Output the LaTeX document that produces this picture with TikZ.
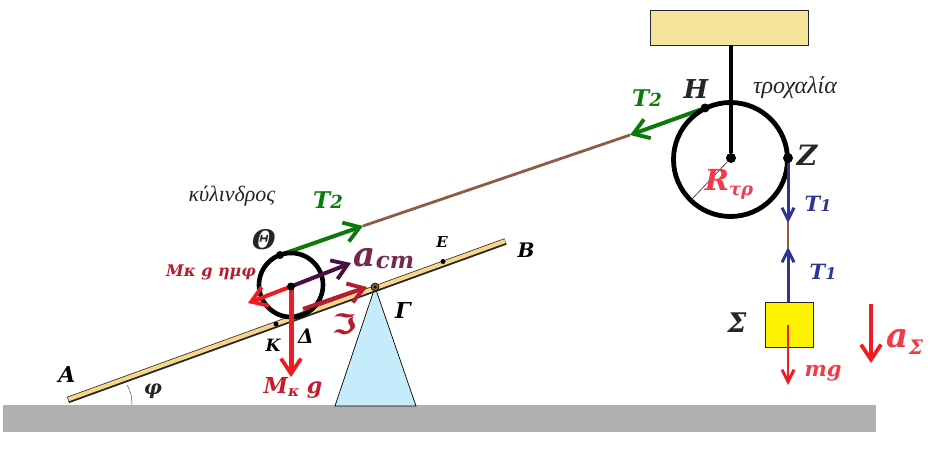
\documentclass[tikz,border=0pt]{standalone}
\usepackage{fontspec}
\setmainfont{Liberation Serif}
\newfontfamily\lbl{DejaVu Serif}[BoldItalicFont={DejaVu Serif Bold Italic}]
\newfontfamily\sym{DejaVu Sans}
\usetikzlibrary{arrows.meta}
\definecolor{grnd}{HTML}{B0B0B0}
\definecolor{rope}{HTML}{8E5C42}
\definecolor{grn}{HTML}{0B7A0B}
\definecolor{blu}{HTML}{2C3592}
\definecolor{rd}{HTML}{ED1C24}
\definecolor{lrd}{HTML}{F23B48}
\definecolor{pur}{HTML}{4A0F42}
\definecolor{lpur}{HTML}{74284F}
\definecolor{frc}{HTML}{B81A30}
\definecolor{plank}{HTML}{F7D68A}
\definecolor{sand}{HTML}{F5E39C}
\definecolor{ice}{HTML}{C6ECFB}
\definecolor{ylw}{HTML}{FFF200}
\definecolor{ink}{HTML}{262626}
\tikzset{
  x=1pt,y=-1pt,
  tip/.style={-{Straight Barb[length=15pt,width=20pt,line width=3.8pt]}},
  smalltip/.style={-{Straight Barb[length=12pt,width=12pt,line width=3pt]}},
  lab/.style={font=\lbl\bfseries\itshape\fontsize{#1}{#1}\selectfont,inner sep=0pt},
  lab/.default=16,
  pt/.style={circle,fill=black,inner sep=0pt,minimum size=#1},
  pt/.default=6pt,
  ital/.style={font=\itshape\fontsize{#1}{#1}\selectfont,inner sep=0pt,text=black!85},
  ital/.default=22
}
\begin{document}
\begin{tikzpicture}
\useasboundingbox (0,0) rectangle (931,449);
\fill[white] (0,0) rectangle (931,449);
% ground and support
\fill[grnd] (3,405) rectangle (876,432);
\node (A0) at (68,400) [inner sep=0pt,minimum size=0pt] {};
\node (B0) at (505.5,241.5) [inner sep=0pt,minimum size=0pt] {};
\draw[black!80,thin] (127,385) .. controls (131,391) and (132,398) .. (132,405);
\draw[black,fill=ice,line width=0.7pt] (375,287) -- (416,406) -- (335,406) -- cycle;
% plank
\draw[black!85,line width=6.6pt] (A0.center) -- (B0.center);
\draw[plank,line width=4pt,shorten <=.5pt,shorten >=.5pt] ([yshift=.6pt]A0.center) -- ([yshift=.6pt]B0.center);
\node[circle,draw=black,fill=rope,inner sep=0pt,minimum size=8pt,line width=.6pt] (G) at (375,287) {};
\node[pt=3.5pt] at (375,287) {};
\node[pt=5pt] (K) at (276,324) {};
\node[pt=5pt] (E) at (443,261.5) {};
% box
\node[draw=ink,fill=sand,minimum width=158pt,minimum height=35pt,inner sep=0pt,line width=.6pt] (top) at (729,27.5) {};
% rope
\node[pt=8pt] (Th) at (280,255) {};
\node[pt=9pt] (H) at (705,108) {};
\node[pt=10pt] (Z) at (788,158) {};
\node[pt=10pt] (C) at (731,158) {};
\coordinate (T2a) at (363,226);
\coordinate (T2b) at (630,135);
\draw[rope,line width=2.8pt] (T2a) -- (T2b);
\draw[rope,line width=2.8pt] (788,222) -- (788,248);
\draw[grn,line width=4pt,tip] (H) -- (T2b);
\draw[grn,line width=4pt,tip] (Th) -- (T2a);
% pulley
\draw[black,line width=4.8pt] (730.5,159.5) circle[radius=57];
\draw[black,line width=4.4pt] (top.south -| C) -- (C);
\coordinate (Re) at (692,199);
\draw[pur,line width=.6pt] (C) -- (Re);
% cylinder
\coordinate (cm) at (291,286.5);
\draw[black,line width=4.6pt] (291,285) circle[radius=32];
% tensions
\coordinate (T1a) at (788,223);
\coordinate (T1b) at (788,247);
\draw[blu,line width=3pt,smalltip] (Z) -- (T1a);
% block
\node[draw=ink,fill=ylw,minimum width=48pt,minimum height=45pt,inner sep=0pt,line width=.6pt] (S) at (789,325) {};
\draw[blu,line width=3pt,smalltip] (788,302) -- (T1b);
\coordinate (mgE) at (788,385);
\draw[rd,line width=2.8pt,smalltip] (788,325) -- (mgE);
\coordinate (a1) at (871,304);
\coordinate (a2) at (871,363);
\draw[rd,line width=4pt,tip] (a1) -- (a2);
% forces
\coordinate (fric0) at (303,309);
\coordinate (fric1) at (367,287);
\draw[frc,line width=4pt,tip] (fric0) -- (fric1);
\coordinate (sinE) at (248,303);
\draw[rd,line width=4pt,tip] (cm) -- (sinE);
\coordinate (acE) at (351,263);
\draw[pur,line width=4pt,tip] (cm) -- (acE);
\coordinate (wE) at (291,377);
\draw[rd,line width=5pt,tip] (cm) -- (wE);
\node[pt=8pt] at (cm) {};
% labels
\node[lab=22,text=black] at (67,374) {Α};
\node[lab=20,text=black] at (526,250) {Β};
\node[lab=20,text=ink] at (153,391) {φ};
\node[lab=15,text=black] at (442,242) {Ε};
\node[lab=17,text=black] at (273,345) {Κ};
\node[lab=20,text=black] at (306,336) {Δ};
\node[lab=22,text=black] at (403,310) {Γ};
\node[lab=27,text=ink] at (264,240) {Θ};
\node[lab=26,text=ink] at (696,89) {Η};
\node[lab=28,text=ink] at (807,155) {Ζ};
\node[lab=27,text=ink] at (737,323) {Σ};
\node[ital] at (232,196) {κύλινδρος};
\node[ital=24] at (795,88) {τροχαλία};
\node[lab=23,text=grn] at (328,200) {T\fontsize{18}{18}\selectfont2};
\node[lab=23,text=grn] at (647,98) {T\fontsize{18}{18}\selectfont2};
\node[lab=21,text=blu] at (818,204) {T\fontsize{16}{16}\selectfont1};
\node[lab=21,text=blu] at (823,272) {T\fontsize{16}{16}\selectfont1};
\node[lab=21,text=lrd] at (823,373) {mg};
\node[lab=29,text=lrd] at (729,184) {R\raisebox{-5pt}{\fontsize{18}{18}\selectfont τρ}};
\node[lab=34,text=lrd] at (905,342) {a\raisebox{-7pt}{\fontsize{20}{20}\selectfont Σ}};
\node[lab=34,text=lpur] at (384,259) {a\raisebox{-2pt}{\fontsize{23}{23}\selectfont cm}};
\node[lab=16,text=frc] at (211,272) {Mκ g ημφ};
\node[lab=22,text=frc!70!rd] at (293,388) {M\raisebox{-3pt}{\fontsize{15}{15}\selectfont κ} g};
\node[font=\sym\bfseries\fontsize{28}{28}\selectfont,text=frc,inner sep=0pt,xscale=1.3] at (344,324) {ℑ};
\end{tikzpicture}
\end{document}
